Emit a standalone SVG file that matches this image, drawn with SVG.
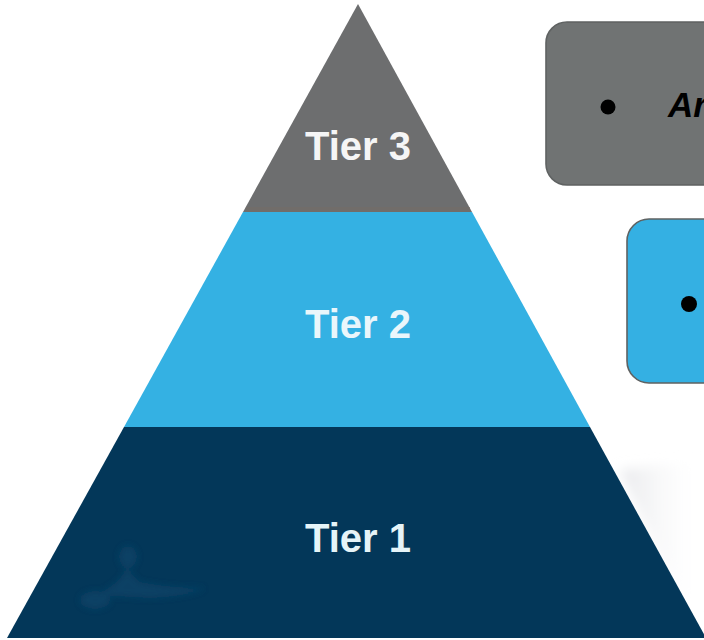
<svg xmlns="http://www.w3.org/2000/svg" width="704" height="640" viewBox="0 0 704 640">
  <defs>
    <style>
      .tier { font-family: "Liberation Sans", Arial, sans-serif; font-weight: bold; font-size: 40px; text-anchor: middle; }
      .box { stroke: #5f6262; stroke-width: 1.6; }
      .bullet { fill: #000; }
      .btext { font-family: "Liberation Sans", Arial, sans-serif; font-weight: bold; font-style: italic; font-size: 35px; fill: #000; }
    </style>
    <linearGradient id="shade" x1="0" y1="0" x2="1" y2="0">
      <stop offset="0" stop-color="#e4e5e8" stop-opacity="0.9"/>
      <stop offset="1" stop-color="#ffffff" stop-opacity="0"/>
    </linearGradient>
    <filter id="blur" x="-20%" y="-20%" width="140%" height="140%">
      <feGaussianBlur stdDeviation="6"/>
    </filter>
    <filter id="blur2" x="-20%" y="-20%" width="140%" height="140%">
      <feGaussianBlur stdDeviation="3"/>
    </filter>
  </defs>
  <rect width="704" height="640" fill="#ffffff"/>

  <!-- faint shadow right of base -->
  <polygon points="620,470 704,460 704,610 680,600" fill="url(#shade)" filter="url(#blur)"/>

  <g id="tier3">
    <polygon points="358,4 472,212 243,212" fill="#6d6e6f"/>
    <rect x="246" y="207" width="224" height="5" fill="#756c68" opacity="0.6"/>
    <text class="tier" x="358" y="160" fill="#f5f5f5">Tier 3</text>
  </g>

  <g id="tier2">
    <polygon points="243,212 472,212 590,427 124,427" fill="#34b1e3"/>
    <text class="tier" x="358" y="338" fill="#eaf6fb">Tier 2</text>
  </g>

  <g id="tier1">
    <polygon points="124,427 590,427 706,638 7,638" fill="#033759"/>
    <g fill="#0b4266" filter="url(#blur2)" opacity="0.9">
      <ellipse cx="128" cy="557" rx="9" ry="11"/>
      <ellipse cx="95" cy="600" rx="15" ry="9"/>
      <path d="M128,565 Q120,585 95,595 L150,598 Q190,596 205,588 Q170,588 140,582 Q130,575 128,565 Z"/>
    </g>
    <text class="tier" x="358" y="552" fill="#e6f4f8">Tier 1</text>
  </g>

  <g id="tier3-box">
    <rect class="box" x="546" y="22" width="190" height="163" rx="21" ry="21" fill="#707373"/>
    <circle class="bullet" cx="608" cy="107" r="7.5"/>
    <text class="btext" x="668" y="117">Ar</text>
  </g>

  <g id="tier2-box">
    <rect class="box" x="627" y="219" width="120" height="164" rx="22" ry="22" fill="#34b0e3"/>
    <circle class="bullet" cx="689" cy="304" r="8"/>
  </g>

  <g id="connectors"/>
</svg>
